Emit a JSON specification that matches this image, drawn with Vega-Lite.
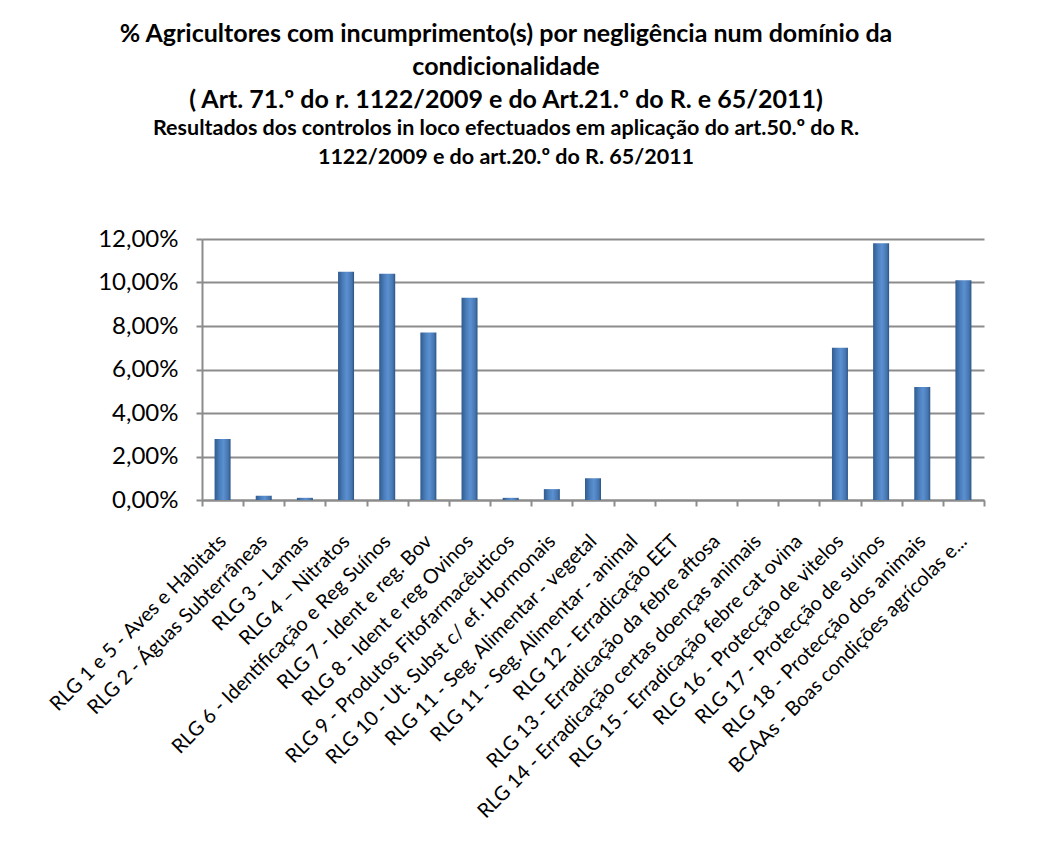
{
  "$schema": "https://vega.github.io/schema/vega-lite/v6.json",
  "width": 782,
  "height": 261,
  "autosize": {"type": "none"},
  "padding": {"left": 202, "top": 239, "right": 58, "bottom": 343},
  "background": "white",
  "title": {
    "text": ["% Agricultores com incumprimento(s) por negligência num domínio da", "condicionalidade", "( Art. 71.º do r. 1122/2009 e do Art.21.º do R. e 65/2011)"],
    "subtitle": ["Resultados dos controlos in loco efectuados em aplicação do art.50.º do R.", "1122/2009 e do art.20.º do R. 65/2011"],
    "anchor": "middle",
    "dx": -87,
    "font": "Lato",
    "fontSize": 25,
    "fontWeight": "bold",
    "lineHeight": 33,
    "color": "black",
    "subtitleFont": "Lato",
    "subtitleFontSize": 21.5,
    "subtitleFontWeight": "bold",
    "subtitleLineHeight": 29,
    "subtitleColor": "black",
    "subtitlePadding": 5,
    "offset": 59
  },
  "data": {
    "values": [
      {"dominio": "RLG 1 e 5 - Aves e Habitats", "pct": 2.8},
      {"dominio": "RLG 2 - Águas Subterrâneas", "pct": 0.2},
      {"dominio": "RLG 3  - Lamas", "pct": 0.1},
      {"dominio": "RLG  4 – Nitratos", "pct": 10.5},
      {"dominio": "RLG 6 - Identificação e Reg Suínos", "pct": 10.4},
      {"dominio": "RLG 7 - Ident e reg. Bov", "pct": 7.7},
      {"dominio": "RLG 8 - Ident e reg Ovinos", "pct": 9.3},
      {"dominio": "RLG 9 - Produtos Fitofarmacêuticos", "pct": 0.1},
      {"dominio": "RLG 10 - Ut. Subst c/ ef. Hormonais", "pct": 0.5},
      {"dominio": "RLG 11 - Seg. Alimentar - vegetal", "pct": 1.0},
      {"dominio": "RLG 11 - Seg. Alimentar - animal", "pct": 0},
      {"dominio": "RLG 12 - Erradicação EET", "pct": 0},
      {"dominio": "RLG 13 - Erradicação da febre aftosa", "pct": 0},
      {"dominio": "RLG 14 - Erradicação certas doenças animais", "pct": 0},
      {"dominio": "RLG 15 - Erradicação febre cat ovina", "pct": 0},
      {"dominio": "RLG 16 - Protecção de vitelos", "pct": 7.0},
      {"dominio": "RLG 17 - Protecção de suínos", "pct": 11.8},
      {"dominio": "RLG 18 - Protecção dos animais", "pct": 5.2},
      {"dominio": "BCAAs - Boas condições agrícolas e...", "pct": 10.1}
    ]
  },
  "mark": {
    "type": "bar",
    "width": 16,
    "color": {
      "gradient": "linear",
      "x1": 0, "x2": 1, "y1": 0, "y2": 0,
      "stops": [
        {"offset": 0, "color": "#2f5b8f"},
        {"offset": 0.3, "color": "#4a7dba"},
        {"offset": 0.55, "color": "#5b90d1"},
        {"offset": 0.85, "color": "#4676b0"},
        {"offset": 1, "color": "#2c5484"}
      ]
    }
  },
  "encoding": {
    "x": {
      "field": "dominio",
      "type": "nominal",
      "sort": null,
      "scale": {"paddingInner": 0, "paddingOuter": 0},
      "axis": {
        "title": null,
        "labelAngle": -45,
        "labelAlign": "right",
        "labelBaseline": "middle",
        "labelFont": "Lato",
        "labelFontSize": 20,
        "labelColor": "black",
        "labelPadding": 32,
        "labelLimit": 500,
        "tickBand": "extent",
        "tickSize": 6,
        "tickWidth": 2,
        "tickColor": "#8c8c8c",
        "domainColor": "#8c8c8c",
        "domainWidth": 2,
        "grid": false
      }
    },
    "y": {
      "field": "pct",
      "type": "quantitative",
      "scale": {"domain": [0, 12], "nice": false},
      "axis": {
        "title": null,
        "values": [0, 2, 4, 6, 8, 10, 12],
        "labelExpr": "replace(format(datum.value, '.2f'), '.', ',') + '%'",
        "labelFont": "Lato",
        "labelFontSize": 24,
        "labelColor": "black",
        "labelPadding": 18,
        "grid": true,
        "gridColor": "#8c8c8c",
        "gridWidth": 2,
        "tickColor": "#8c8c8c",
        "tickSize": 6,
        "tickWidth": 2,
        "domainColor": "#8c8c8c",
        "domainWidth": 2
      }
    }
  },
  "config": {"view": {"stroke": null}}
}
